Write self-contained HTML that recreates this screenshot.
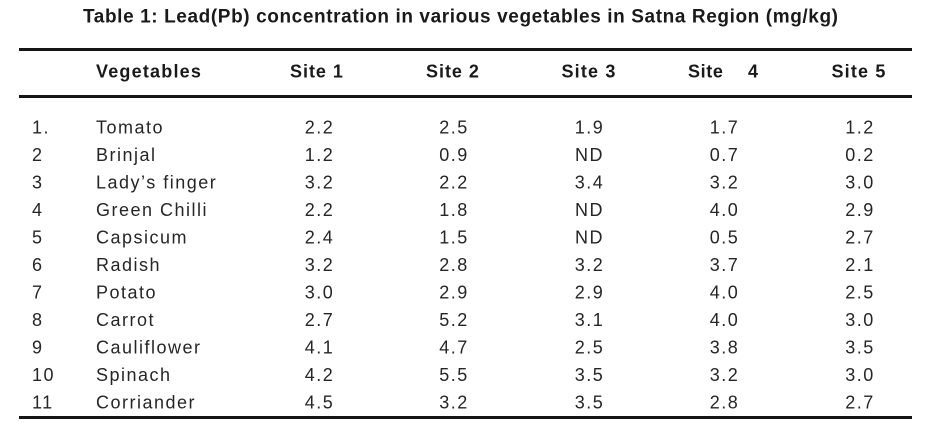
<!DOCTYPE html>
<html>
<head>
<meta charset="utf-8">
<style>
  html, body { margin:0; padding:0; background:#ffffff; }
  body { width:929px; height:434px; overflow:hidden; }
  svg { display:block; }
  .t { font-family:"Liberation Sans", Arial, sans-serif; font-weight:bold; font-size:19px; fill:#1a1a1a; }
  .h { font-family:"Liberation Sans", Arial, sans-serif; font-weight:bold; font-size:18px; fill:#1a1a1a; letter-spacing:1.1px; }
  .b { font-family:"Liberation Sans", Arial, sans-serif; font-size:18px; fill:#262626; letter-spacing:1.5px; }
  .c { text-anchor:middle; }
</style>
</head>
<body>
<svg width="929" height="434" viewBox="0 0 929 434" xmlns="http://www.w3.org/2000/svg">
  <rect x="0" y="0" width="929" height="434" fill="#ffffff"/>
  <text class="t" x="83" y="22.7" textLength="755" lengthAdjust="spacing">Table 1: Lead(Pb) concentration in various vegetables in Satna Region (mg/kg)</text>

  <rect x="19" y="48" width="893" height="3" fill="#151515"/>
  <rect x="19" y="95" width="893" height="3" fill="#151515"/>
  <rect x="19" y="416" width="893" height="3" fill="#151515"/>

  <text class="h" x="96" y="77.5" textLength="106" lengthAdjust="spacing">Vegetables</text>
  <text class="h" x="290" y="77.5" textLength="54" lengthAdjust="spacing">Site 1</text>
  <text class="h" x="426" y="77.5" textLength="54" lengthAdjust="spacing">Site 2</text>
  <text class="h" x="561.5" y="77.5" textLength="55" lengthAdjust="spacing">Site 3</text>
  <text class="h" x="688" y="77.5" textLength="36" lengthAdjust="spacing">Site</text>
  <text class="h" x="748" y="77.5">4</text>
  <text class="h" x="831.5" y="77.5" textLength="55" lengthAdjust="spacing">Site 5</text>

  <g class="b">
    <text x="32" y="133.3">1.</text><text x="96" y="133.3">Tomato</text>
    <text class="c" x="319.5" y="133.3">2.2</text><text class="c" x="454" y="133.3">2.5</text><text class="c" x="589.5" y="133.3">1.9</text><text class="c" x="724.5" y="133.3">1.7</text><text class="c" x="860" y="133.3">1.2</text>

    <text x="32" y="160.8">2</text><text x="96" y="160.8">Brinjal</text>
    <text class="c" x="319.5" y="160.8">1.2</text><text class="c" x="454" y="160.8">0.9</text><text class="c" x="589.5" y="160.8">ND</text><text class="c" x="724.5" y="160.8">0.7</text><text class="c" x="860" y="160.8">0.2</text>

    <text x="32" y="188.3">3</text><text x="96" y="188.3">Lady’s finger</text>
    <text class="c" x="319.5" y="188.3">3.2</text><text class="c" x="454" y="188.3">2.2</text><text class="c" x="589.5" y="188.3">3.4</text><text class="c" x="724.5" y="188.3">3.2</text><text class="c" x="860" y="188.3">3.0</text>

    <text x="32" y="215.8">4</text><text x="96" y="215.8">Green Chilli</text>
    <text class="c" x="319.5" y="215.8">2.2</text><text class="c" x="454" y="215.8">1.8</text><text class="c" x="589.5" y="215.8">ND</text><text class="c" x="724.5" y="215.8">4.0</text><text class="c" x="860" y="215.8">2.9</text>

    <text x="32" y="243.3">5</text><text x="96" y="243.3">Capsicum</text>
    <text class="c" x="319.5" y="243.3">2.4</text><text class="c" x="454" y="243.3">1.5</text><text class="c" x="589.5" y="243.3">ND</text><text class="c" x="724.5" y="243.3">0.5</text><text class="c" x="860" y="243.3">2.7</text>

    <text x="32" y="270.8">6</text><text x="96" y="270.8">Radish</text>
    <text class="c" x="319.5" y="270.8">3.2</text><text class="c" x="454" y="270.8">2.8</text><text class="c" x="589.5" y="270.8">3.2</text><text class="c" x="724.5" y="270.8">3.7</text><text class="c" x="860" y="270.8">2.1</text>

    <text x="32" y="298.3">7</text><text x="96" y="298.3">Potato</text>
    <text class="c" x="319.5" y="298.3">3.0</text><text class="c" x="454" y="298.3">2.9</text><text class="c" x="589.5" y="298.3">2.9</text><text class="c" x="724.5" y="298.3">4.0</text><text class="c" x="860" y="298.3">2.5</text>

    <text x="32" y="325.8">8</text><text x="96" y="325.8">Carrot</text>
    <text class="c" x="319.5" y="325.8">2.7</text><text class="c" x="454" y="325.8">5.2</text><text class="c" x="589.5" y="325.8">3.1</text><text class="c" x="724.5" y="325.8">4.0</text><text class="c" x="860" y="325.8">3.0</text>

    <text x="32" y="353.3">9</text><text x="96" y="353.3">Cauliflower</text>
    <text class="c" x="319.5" y="353.3">4.1</text><text class="c" x="454" y="353.3">4.7</text><text class="c" x="589.5" y="353.3">2.5</text><text class="c" x="724.5" y="353.3">3.8</text><text class="c" x="860" y="353.3">3.5</text>

    <text x="32" y="380.8">10</text><text x="96" y="380.8">Spinach</text>
    <text class="c" x="319.5" y="380.8">4.2</text><text class="c" x="454" y="380.8">5.5</text><text class="c" x="589.5" y="380.8">3.5</text><text class="c" x="724.5" y="380.8">3.2</text><text class="c" x="860" y="380.8">3.0</text>

    <text x="32" y="408.3">11</text><text x="96" y="408.3">Corriander</text>
    <text class="c" x="319.5" y="408.3">4.5</text><text class="c" x="454" y="408.3">3.2</text><text class="c" x="589.5" y="408.3">3.5</text><text class="c" x="724.5" y="408.3">2.8</text><text class="c" x="860" y="408.3">2.7</text>
  </g>
</svg>
</body>
</html>
